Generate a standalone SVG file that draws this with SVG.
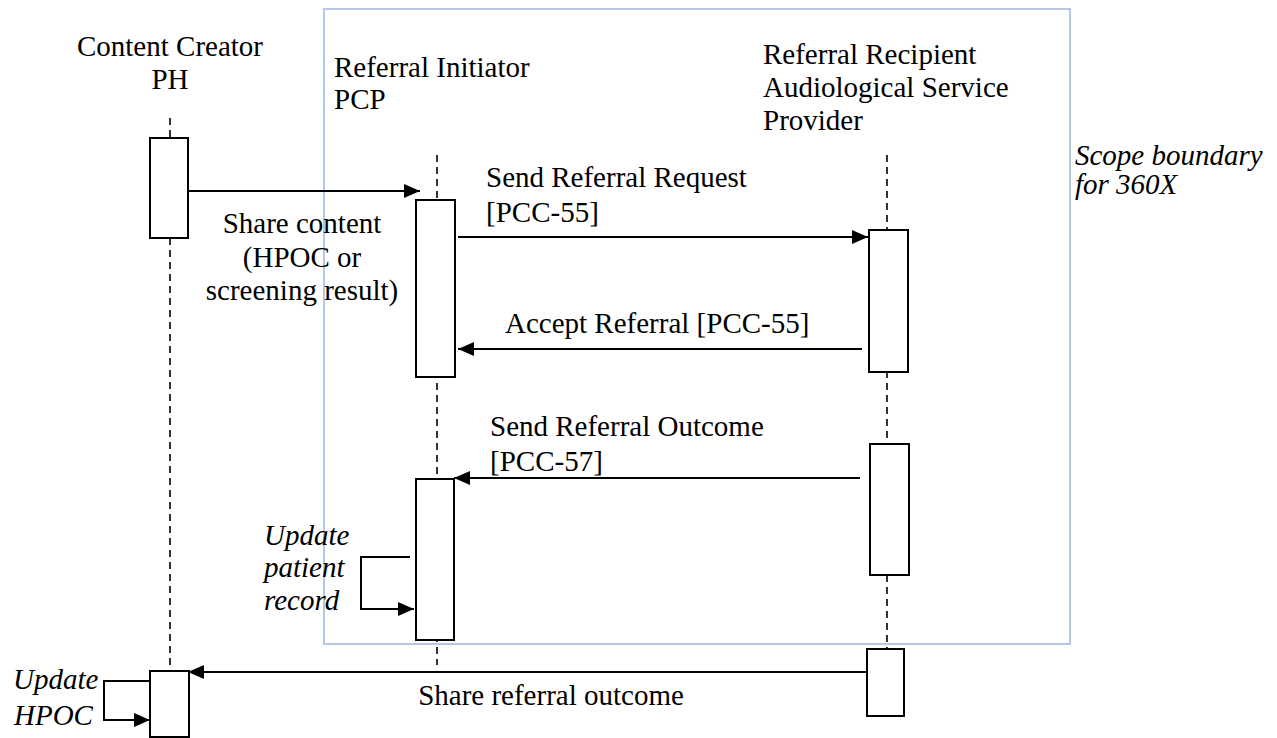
<svg xmlns="http://www.w3.org/2000/svg" width="1277" height="738" viewBox="0 0 1277 738">
<style>
text{font-family:'Liberation Serif','Times New Roman',serif;font-size:29px;fill:#000}
.i{font-style:italic}
.m{text-anchor:middle}
.life{stroke:#000;stroke-width:1.6;stroke-dasharray:7 5;fill:none}
.act{fill:#fff;stroke:#000;stroke-width:2}
.msg{stroke:#000;stroke-width:2;fill:none;marker-end:url(#ah)}
</style>
<defs>
<marker id="ah" viewBox="0 0 16 14" refX="16" refY="7" markerWidth="16" markerHeight="14" markerUnits="userSpaceOnUse" orient="auto">
<path d="M0 0 L16 7 L0 14 Z" fill="#000"/>
</marker>
</defs>
<rect width="1277" height="738" fill="#fff"/>
<g id="scope">
<rect x="324" y="9" width="746" height="635" fill="none" stroke="#b4c7e7" stroke-width="2"/>
<text class="i" x="1075" y="165">Scope boundary</text>
<text class="i" x="1075" y="194">for 360X</text>
</g>
<g id="lifelines">
<line class="life" x1="170" y1="118" x2="170" y2="672"/>
<line class="life" x1="437" y1="155" x2="437" y2="665"/>
<line class="life" x1="887" y1="155" x2="887" y2="650"/>
</g>
<g id="ph">
<text class="m" x="170" y="56">Content Creator</text>
<text class="m" x="170" y="89">PH</text>
<rect class="act" x="150" y="138" width="38" height="100"/>
<rect class="act" x="150" y="671" width="39" height="66"/>
</g>
<g id="pcp">
<text x="334" y="77">Referral Initiator</text>
<text x="334" y="109">PCP</text>
<rect class="act" x="416" y="200" width="39" height="177"/>
<rect class="act" x="416" y="479" width="38" height="161"/>
</g>
<g id="asp">
<text x="763" y="64">Referral Recipient</text>
<text x="763" y="97">Audiological Service</text>
<text x="763" y="130">Provider</text>
<rect class="act" x="869" y="230" width="39" height="142"/>
<rect class="act" x="870" y="444" width="39" height="131"/>
<rect class="act" x="867" y="649" width="37" height="67"/>
</g>
<g id="connectors">
<line class="msg" x1="188" y1="191" x2="420" y2="191"/>
<line class="msg" x1="458" y1="237" x2="868" y2="237"/>
<line class="msg" x1="862" y1="349" x2="458" y2="349"/>
<line class="msg" x1="860" y1="478" x2="454" y2="478"/>
<path class="msg" d="M410 557 H361 V609 H414"/>
<line class="msg" x1="867" y1="672" x2="188" y2="672"/>
<path class="msg" d="M150 681 H104 V720 H150"/>
</g>
<g id="labels">
<text class="m" x="302" y="233">Share content</text>
<text class="m" x="302" y="267">(HPOC or</text>
<text class="m" x="302" y="300">screening result)</text>
<text x="486" y="187">Send Referral Request</text>
<text x="486" y="222">[PCC-55]</text>
<text x="505" y="333">Accept Referral [PCC-55]</text>
<text x="490" y="436">Send Referral Outcome</text>
<text x="490" y="471">[PCC-57]</text>
<text class="i" x="264" y="545">Update</text>
<text class="i" x="264" y="577">patient</text>
<text class="i" x="264" y="610">record</text>
<text class="i" x="13" y="689">Update</text>
<text class="i" x="14" y="725">HPOC</text>
<text class="m" x="551" y="705">Share referral outcome</text>
</g>
</svg>
